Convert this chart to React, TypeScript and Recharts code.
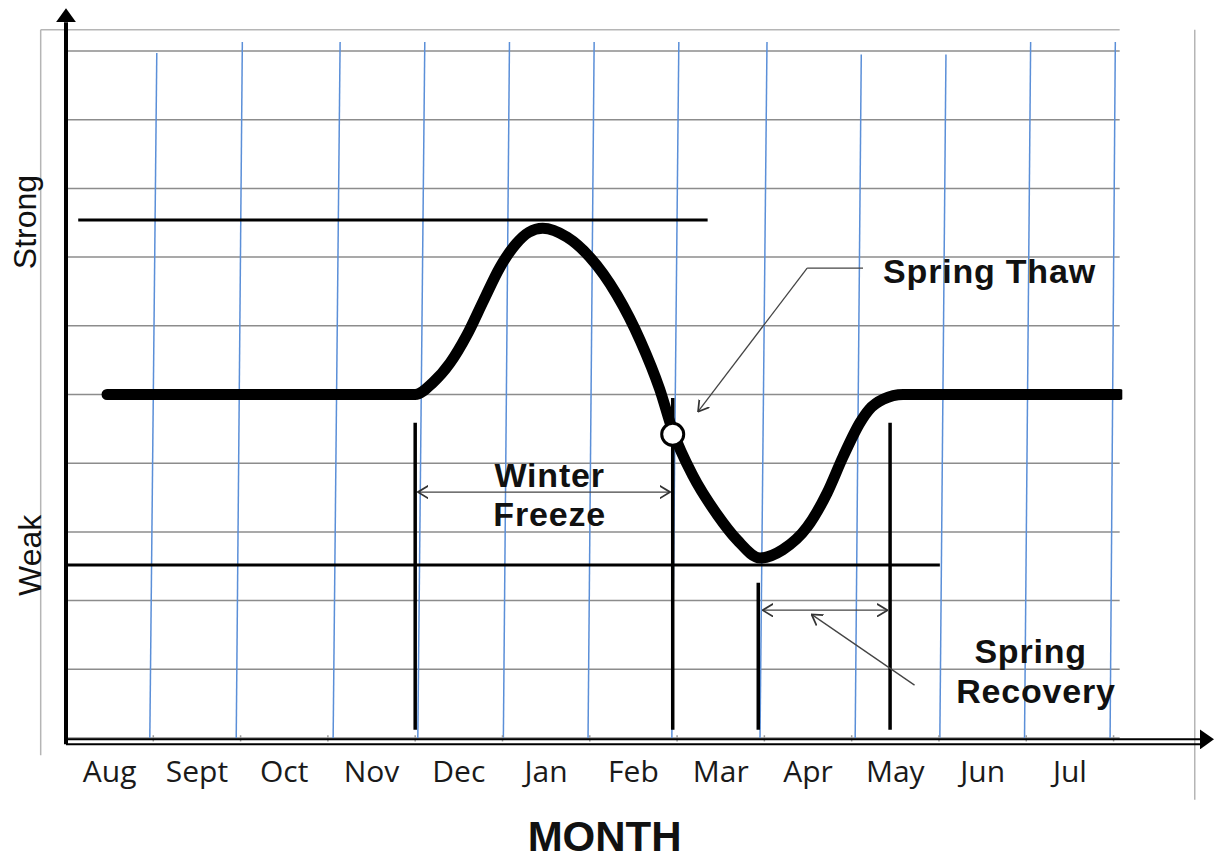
import React from "react";
import {
  ComposedChart,
  Line,
  XAxis,
  YAxis,
  ReferenceLine,
  ReferenceDot,
} from "recharts";

// months along the bottom, one per unit of x
const MONTHS = ["Aug", "Sept", "Oct", "Nov", "Dec", "Jan", "Feb", "Mar", "Apr", "May", "Jun", "Jul"];
const MONTH_TICKS = [0.5, 1.5, 2.5, 3.5, 4.5, 5.5, 6.5, 7.5, 8.5, 9.5, 10.5, 11.5];

// strength curve (x in months from Aug, y in grid units 0-10)
const curveX = [0.47, 4.0, 4.2, 4.4, 4.59, 4.78, 4.97, 5.16, 5.3, 5.46, 5.74, 6.0, 6.31, 6.58, 6.8, 6.95, 7.18, 7.46, 7.69, 7.95, 8.21, 8.49, 8.72, 8.9, 9.1, 9.2, 9.36, 9.59, 12.07];
const curveY = [5.0, 5.0, 5.17, 5.46, 5.86, 6.36, 6.85, 7.2, 7.36, 7.42, 7.29, 7.0, 6.45, 5.78, 5.08, 4.47, 3.82, 3.25, 2.88, 2.62, 2.74, 3.07, 3.57, 4.09, 4.6, 4.78, 4.93, 5.0, 5.0];

// hand drawn blue verticals (bottom x, top x, top y)
const blueBottom = [0.96, 1.95, 3.06, 4.03, 5.01, 5.98, 6.94, 7.95, 9.04, 10.01, 10.98, 11.96];
const blueTopX = [1.04, 2.02, 3.14, 4.11, 5.08, 6.05, 7.02, 8.03, 9.11, 10.08, 11.05, 12.02];
const blueTopY = [9.97, 10.13, 10.13, 10.13, 10.13, 10.13, 10.13, 10.13, 9.95, 9.95, 10.13, 10.13];
const GRID_Y = [0, 1, 2, 3, 4, 5, 6, 7, 8, 9, 10];

// strong / weak levels
const strongLevel = { y: 7.54, from: 0.14, to: 7.35 };
const weakLevel = { y: 2.52, from: 0, to: 10.01 };

// period markers: x, top
const markerX = [4.0, 6.95, 7.93, 9.44];
const markerTop = [4.59, 4.95, 2.26, 4.59];

const thawPoint = { x: 6.95, y: 4.42 };

const winterSpan = { y: 3.58, from: 4.03, to: 6.92 };
const recoverySpan = { y: 1.86, from: 7.98, to: 9.41 };

const data = curveX.map((x, i) => ({ x, v: curveY[i] }));

const Note = (props: any) => {
  const { viewBox, text, anchor = "middle", size = 33, weight = "bold", spacing = 0, family = "'Liberation Sans', Arial, sans-serif", rotate } = props;
  const x = viewBox.x + viewBox.width / 2;
  const y = viewBox.y + viewBox.height / 2;
  return (
    <text
      x={x}
      y={y}
      textAnchor={anchor}
      fontSize={size}
      fontWeight={weight}
      fontFamily={family}
      letterSpacing={spacing}
      fill="#111"
      transform={rotate ? `rotate(${rotate} ${x} ${y})` : undefined}
    >
      {text}
    </text>
  );
};

const seg = (x1: number, y1: number, x2: number, y2: number) => [
  { x: x1, y: y1 },
  { x: x2, y: y2 },
];

export default function App() {
  const note = (x: number, y: number, text: string, extra: any = {}) => (
    <ReferenceDot
      key={text}
      x={x}
      y={y}
      r={1}
      fill="none"
      stroke="none"
      ifOverflow="visible"
      label={(p: any) => <Note {...p} text={text} {...extra} />}
    />
  );

  return (
    <div style={{ position: "absolute", left: 0, top: 0, background: "#fff" }}>
      <svg width={0} height={0} style={{ position: "absolute" }}>
        <defs>
          <marker id="solidArrow" viewBox="0 0 10 10" refX={0} refY={5} markerWidth={14} markerHeight={20}
            markerUnits="userSpaceOnUse" orient="auto" preserveAspectRatio="none">
            <path d="M0,0 L10,5 L0,10 z" fill="#000" />
          </marker>
          <marker id="openArrow" viewBox="0 0 10 10" refX={9.5} refY={5} markerWidth={11} markerHeight={14}
            markerUnits="userSpaceOnUse" orient="auto-start-reverse" preserveAspectRatio="none">
            <path d="M0,0.5 L9.5,5 L0,9.5" fill="none" stroke="#333" strokeWidth={1.3} />
          </marker>
        </defs>
      </svg>
      <ComposedChart
        width={1215}
        height={859}
        data={data}
        margin={{ top: 51, right: 92.7, left: 66, bottom: 61 }}
      >
        <XAxis
          dataKey="x"
          type="number"
          domain={[0, 12.1]}
          allowDataOverflow
          ticks={MONTH_TICKS}
          interval={0}
          tickFormatter={(v: number) => MONTHS[Math.floor(v)]}
          axisLine={false}
          tickLine={false}
          tickMargin={17}
          height={60}
          tick={{ fontSize: 30, fill: "#1a1a1a", fontFamily: "'Open Sans', sans-serif" }}
        />
        <YAxis type="number" domain={[0, 10]} hide allowDataOverflow />

        {/* outer frame */}
        <ReferenceLine segment={seg(-0.29, 10.31, 12.07, 10.31)} stroke="#b5b5b5" strokeWidth={1.5} ifOverflow="visible" />
        <ReferenceLine segment={seg(-0.29, 10.31, -0.29, -0.25)} stroke="#b5b5b5" strokeWidth={1.5} ifOverflow="visible" />
        <ReferenceLine segment={seg(12.93, 10.31, 12.93, -0.9)} stroke="#b5b5b5" strokeWidth={1.5} ifOverflow="visible" />

        {/* grid */}
        {GRID_Y.map((g) => (
          <ReferenceLine key={`g${g}`} segment={seg(0, g, 12.07, g)} stroke="#8c8c8c" strokeWidth={1.5} ifOverflow="visible" />
        ))}
        {blueBottom.map((b, i) => (
          <ReferenceLine key={`b${i}`} segment={seg(b, 0, blueTopX[i], blueTopY[i])} stroke="#5b8fd8" strokeWidth={1.5} ifOverflow="visible" />
        ))}
        {blueBottom.map((b, i) => (
          <ReferenceLine key={`t${i}`} segment={seg(i + 1, 0.04, i + 1, -0.05)} stroke="#9a9a9a" strokeWidth={1.5} ifOverflow="visible" />
        ))}

        {/* axes */}
        <ReferenceLine segment={seg(0, -0.09, 0, 10.42)} stroke="#000" strokeWidth={4} markerEnd="url(#solidArrow)" ifOverflow="visible" />
        <ReferenceLine segment={seg(0, -0.02, 12.99, -0.02)} stroke="#000" strokeWidth={2} markerEnd="url(#solidArrow)" ifOverflow="visible" />
        <ReferenceLine segment={seg(0, -0.09, 12.99, -0.09)} stroke="#000" strokeWidth={2} ifOverflow="visible" />

        {/* strong / weak levels */}
        <ReferenceLine segment={seg(strongLevel.from, strongLevel.y, strongLevel.to, strongLevel.y)} stroke="#000" strokeWidth={3} ifOverflow="visible" />
        <ReferenceLine segment={seg(weakLevel.from, weakLevel.y, weakLevel.to, weakLevel.y)} stroke="#000" strokeWidth={3} ifOverflow="visible" />

        {/* period markers */}
        {markerX.map((m, i) => (
          <ReferenceLine key={`m${i}`} segment={seg(m, 0.12, m, markerTop[i])} stroke="#000" strokeWidth={3.5} ifOverflow="visible" />
        ))}

        {/* span arrows */}
        <ReferenceLine segment={seg(winterSpan.from, winterSpan.y, winterSpan.to, winterSpan.y)} stroke="#444" strokeWidth={1.3}
          markerStart="url(#openArrow)" markerEnd="url(#openArrow)" ifOverflow="visible" />
        <ReferenceLine segment={seg(recoverySpan.from, recoverySpan.y, recoverySpan.to, recoverySpan.y)} stroke="#444" strokeWidth={1.3}
          markerStart="url(#openArrow)" markerEnd="url(#openArrow)" ifOverflow="visible" />
        <ReferenceLine segment={seg(9.72, 0.77, 8.54, 1.8)} stroke="#444" strokeWidth={1.3} markerEnd="url(#openArrow)" ifOverflow="visible" />
        <ReferenceLine segment={seg(9.13, 6.84, 8.49, 6.84)} stroke="#444" strokeWidth={1.3} ifOverflow="visible" />
        <ReferenceLine segment={seg(8.49, 6.84, 7.24, 4.75)} stroke="#444" strokeWidth={1.3} markerEnd="url(#openArrow)" ifOverflow="visible" />

        <Line
          dataKey="v"
          type="monotone"
          stroke="#000"
          strokeWidth={11}
          strokeLinecap="round"
          strokeLinejoin="round"
          dot={false}
          activeDot={false}
          isAnimationActive={false}
        />

        <ReferenceDot x={thawPoint.x} y={thawPoint.y} r={11} fill="#fff" stroke="#000" strokeWidth={3} ifOverflow="visible" />

        {note(9.36, 6.62, "Spring Thaw", { anchor: "start", size: 34, spacing: 0.8 })}
        {note(5.54, 3.65, "Winter", { size: 34, spacing: 0.8 })}
        {note(5.54, 3.09, "Freeze", { size: 34, spacing: 0.8 })}
        {note(11.05, 1.09, "Spring", { size: 34, spacing: 0.8 })}
        {note(11.11, 0.51, "Recovery", { size: 34, spacing: 0.8 })}
        {note(6.17, -1.65, "MONTH", { size: 42 })}
        {note(-0.34, 7.51, "Strong", { size: 32, weight: "normal", rotate: -90 })}
        {note(-0.29, 2.66, "Weak", { size: 32, weight: "normal", rotate: -90 })}
      </ComposedChart>
    </div>
  );
}
